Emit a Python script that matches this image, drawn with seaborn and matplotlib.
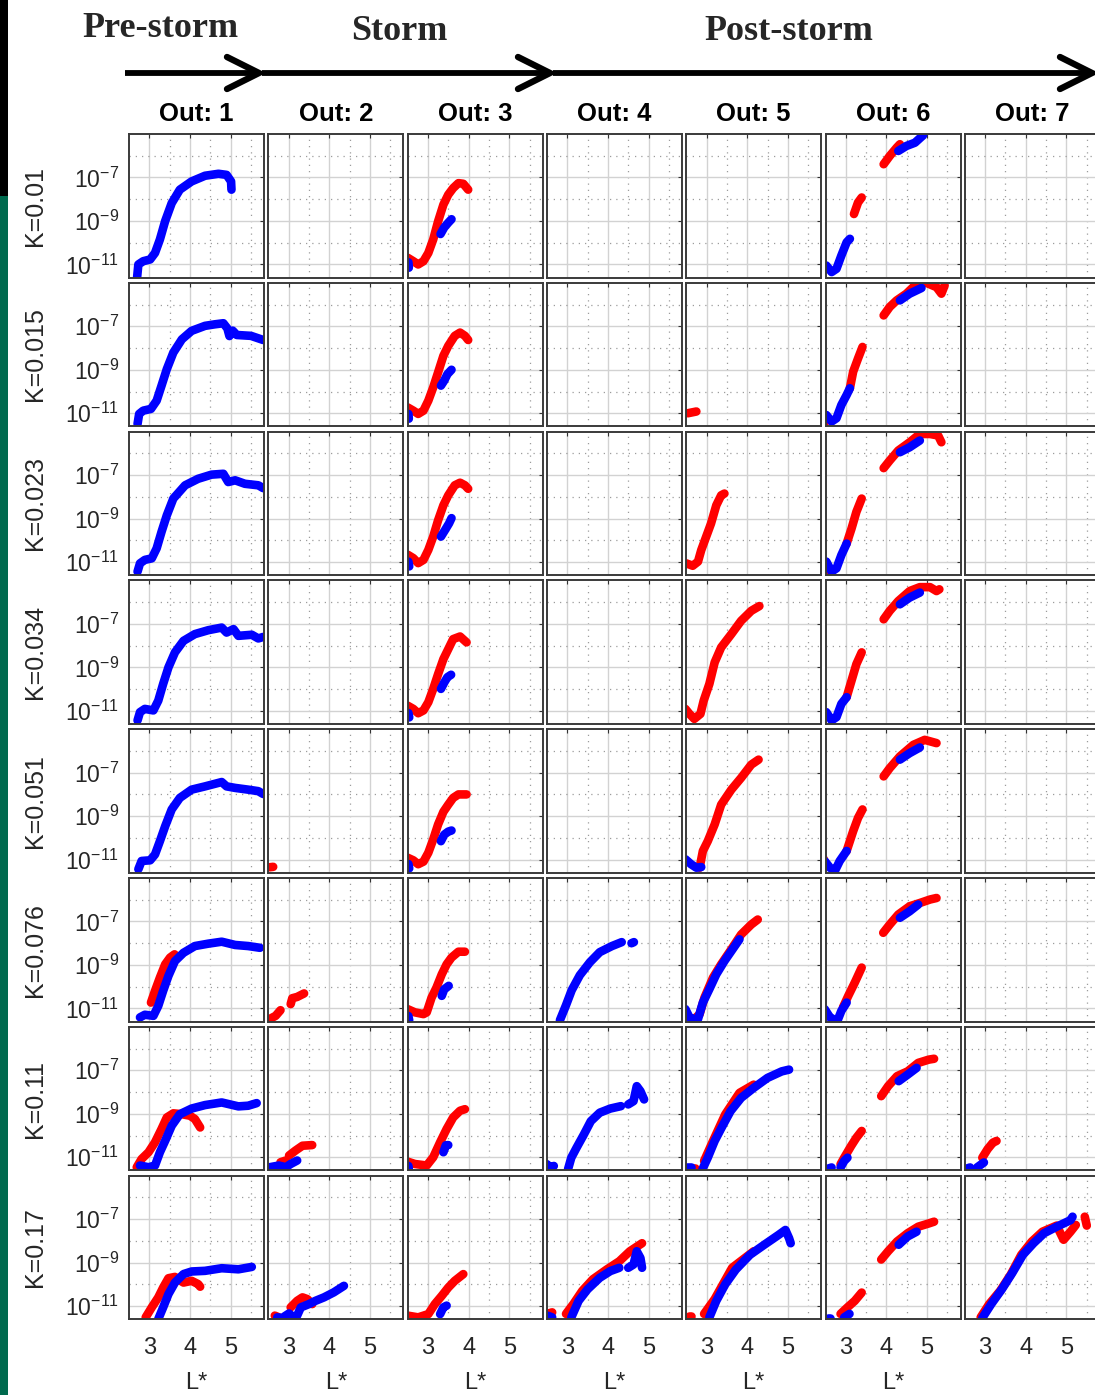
import matplotlib
matplotlib.use("Agg")
import matplotlib.pyplot as plt
import seaborn as sns
import pandas as pd
from matplotlib.lines import Line2D
from matplotlib.patches import Rectangle
from matplotlib.ticker import FixedLocator, FixedFormatter, NullFormatter

sns.set_style("white")
plt.rcParams["font.family"] = ["Liberation Sans", "DejaVu Sans"]
plt.rcParams["mathtext.fontset"] = "custom"
plt.rcParams["mathtext.rm"] = "Liberation Sans"
plt.rcParams["mathtext.it"] = "Liberation Sans:italic"
plt.rcParams["mathtext.bf"] = "Liberation Sans:bold"
plt.rcParams["axes.unicode_minus"] = False

# ---------------------------------------------------------------------------
# Grid labels
# ---------------------------------------------------------------------------
K_LABELS = ["K=0.01", "K=0.015", "K=0.023", "K=0.034", "K=0.051", "K=0.076", "K=0.11", "K=0.17"]
OUTBOUNDS = [1, 2, 3, 4, 5, 6, 7]
PHASES = ["Pre-storm", "Storm", "Post-storm"]
X_TICKS = [3, 4, 5]
Y_TICK_EXP = [-11, -9, -7]

# ---------------------------------------------------------------------------
# Phase space density profiles: (L*, log10 PSD) pairs, one list per trace
# ---------------------------------------------------------------------------
# K = 0.01
k010_o1_blue = [(2.70, -11.58), (2.73, -11.00), (2.85, -10.85), (3.02, -10.77), (3.14, -10.47), (3.26, -9.85), (3.39, -9.00), (3.55, -8.18), (3.75, -7.56), (4.04, -7.18), (4.37, -6.92), (4.70, -6.83), (4.90, -6.88), (5.01, -7.18), (5.02, -7.56)]
k010_o3_red = [(2.50, -10.69), (2.64, -10.85), (2.76, -11.00), (2.89, -10.85), (3.01, -10.47), (3.13, -9.85), (3.25, -9.02), (3.38, -8.25), (3.50, -7.79), (3.62, -7.49), (3.75, -7.26), (3.87, -7.29), (3.99, -7.56)]
k010_o3_blue = [(3.31, -9.60), (3.40, -9.30), (3.50, -9.08), (3.58, -8.92)]
k010_o3_blue_edge = [(2.52, -10.90), (2.53, -11.15)]
k010_o6_blue_low = [(2.52, -11.05), (2.65, -11.35), (2.77, -11.20), (2.89, -10.59), (3.02, -9.98), (3.10, -9.82)]
k010_o6_red_mid = [(3.20, -8.68), (3.30, -8.15), (3.39, -7.92)]
k010_o6_red_high = [(3.93, -6.39), (4.08, -6.01), (4.25, -5.63), (4.33, -5.47)]
k010_o6_blue_high = [(4.29, -5.78), (4.49, -5.55), (4.70, -5.40), (4.90, -5.06)]

# K = 0.015
k015_o1_blue = [(2.71, -11.49), (2.75, -11.03), (2.85, -10.88), (3.04, -10.80), (3.18, -10.42), (3.30, -9.73), (3.43, -8.97), (3.59, -8.21), (3.80, -7.60), (4.04, -7.21), (4.37, -6.98), (4.61, -6.91), (4.82, -6.86), (4.92, -7.10), (4.97, -7.45), (5.05, -7.20), (5.15, -7.40), (5.50, -7.44), (5.80, -7.63)]
k015_o3_red = [(2.50, -10.73), (2.64, -10.88), (2.76, -11.03), (2.89, -10.88), (3.01, -10.42), (3.13, -9.81), (3.25, -9.12), (3.38, -8.36), (3.50, -7.90), (3.66, -7.44), (3.79, -7.29), (3.91, -7.44), (3.99, -7.63)]
k015_o3_blue = [(3.32, -9.73), (3.40, -9.50), (3.48, -9.20), (3.58, -9.00)]
k015_o3_blue_edge = [(2.52, -11.03), (2.53, -11.25)]
k015_o5_red = [(2.54, -11.00), (2.75, -10.92)]
k015_o6_blue_low = [(2.52, -11.08), (2.65, -11.38), (2.77, -11.23), (2.89, -10.62), (3.02, -10.16), (3.10, -9.85)]
k015_o6_red_mid = [(3.10, -9.85), (3.18, -9.09), (3.30, -8.48), (3.41, -7.95)]
k015_o6_red_edge = [(2.46, -11.35), (2.48, -11.45)]
k015_o6_red_high = [(3.93, -6.50), (4.08, -6.11), (4.25, -5.81), (4.49, -5.50), (4.74, -5.05), (4.98, -5.00), (5.23, -5.20), (5.35, -5.50), (5.43, -5.12)]
k015_o6_blue_high = [(4.33, -5.81), (4.57, -5.50), (4.86, -5.24)]

# K = 0.023
k023_o1_blue = [(2.71, -11.44), (2.77, -11.06), (2.89, -10.90), (3.06, -10.83), (3.18, -10.37), (3.30, -9.61), (3.43, -8.85), (3.59, -8.08), (3.88, -7.47), (4.20, -7.17), (4.53, -6.98), (4.82, -6.94), (4.94, -7.32), (5.11, -7.24), (5.35, -7.40), (5.68, -7.47), (5.80, -7.60)]
k023_o3_red = [(2.50, -10.66), (2.64, -10.82), (2.76, -11.05), (2.89, -10.90), (3.01, -10.44), (3.13, -9.83), (3.25, -9.08), (3.38, -8.39), (3.50, -7.93), (3.66, -7.47), (3.79, -7.35), (3.91, -7.47), (3.99, -7.63)]
k023_o3_blue = [(3.32, -9.83), (3.42, -9.53), (3.52, -9.22), (3.58, -8.98)]
k023_o3_blue_edge = [(2.52, -10.98), (2.54, -11.20)]
k023_o5_red = [(2.50, -11.06), (2.66, -11.17), (2.79, -10.98), (2.87, -10.45), (2.99, -9.84), (3.11, -9.23), (3.24, -8.39), (3.36, -7.93), (3.44, -7.85)]
k023_o6_blue_low = [(2.52, -10.98), (2.65, -11.44), (2.77, -11.29), (2.89, -10.68), (3.02, -10.15)]
k023_o6_red_mid = [(3.02, -10.15), (3.14, -9.46), (3.26, -8.69), (3.39, -8.08)]
k023_o6_red_edge = [(2.47, -11.40), (2.49, -11.50)]
k023_o6_red_high = [(3.93, -6.68), (4.08, -6.33), (4.29, -5.87), (4.57, -5.49), (4.82, -5.11), (5.07, -5.11), (5.27, -5.18), (5.35, -5.49)]
k023_o6_blue_high = [(4.33, -5.95), (4.57, -5.72), (4.82, -5.41)]

# K = 0.034
k034_o1_blue = [(2.71, -11.44), (2.77, -11.06), (2.89, -10.91), (3.10, -10.98), (3.22, -10.53), (3.34, -9.76), (3.47, -9.00), (3.63, -8.31), (3.84, -7.78), (4.12, -7.47), (4.45, -7.29), (4.78, -7.17), (4.90, -7.40), (5.07, -7.24), (5.19, -7.55), (5.52, -7.50), (5.68, -7.67), (5.80, -7.60)]
k034_o3_red = [(2.50, -10.76), (2.64, -10.91), (2.76, -11.11), (2.89, -10.98), (3.01, -10.60), (3.13, -9.99), (3.25, -9.31), (3.38, -8.62), (3.50, -8.16), (3.62, -7.70), (3.79, -7.58), (3.95, -7.85)]
k034_o3_blue = [(3.32, -9.99), (3.40, -9.70), (3.48, -9.45), (3.57, -9.34)]
k034_o3_blue_edge = [(2.52, -11.10), (2.54, -11.30)]
k034_o5_red = [(2.48, -10.91), (2.58, -11.14), (2.70, -11.37), (2.85, -11.14), (2.93, -10.53), (3.07, -9.76), (3.20, -8.77), (3.36, -8.08), (3.61, -7.47), (3.85, -6.86), (4.10, -6.40), (4.30, -6.18)]
k034_o6_blue_low = [(2.52, -11.06), (2.65, -11.44), (2.77, -11.29), (2.89, -10.68), (3.02, -10.37)]
k034_o6_red_mid = [(3.02, -10.37), (3.14, -9.61), (3.26, -8.85), (3.39, -8.31)]
k034_o6_red_high = [(3.93, -6.79), (4.08, -6.40), (4.29, -5.95), (4.57, -5.49), (4.82, -5.31), (5.07, -5.31), (5.23, -5.49), (5.30, -5.41)]
k034_o6_blue_high = [(4.33, -6.10), (4.57, -5.79), (4.82, -5.56)]

# K = 0.051
k051_o1_blue = [(2.73, -11.44), (2.81, -11.06), (3.02, -11.03), (3.14, -10.76), (3.26, -10.15), (3.39, -9.46), (3.55, -8.69), (3.75, -8.16), (4.04, -7.78), (4.37, -7.63), (4.78, -7.43), (4.90, -7.63), (5.11, -7.70), (5.43, -7.78), (5.68, -7.85), (5.80, -7.98)]
k051_o2_red = [(2.53, -11.35), (2.62, -11.33)]
k051_o3_red = [(2.50, -10.91), (2.64, -11.03), (2.76, -11.21), (2.89, -11.09), (3.01, -10.68), (3.13, -10.07), (3.25, -9.38), (3.38, -8.80), (3.50, -8.47), (3.62, -8.16), (3.75, -8.00), (3.95, -8.00)]
k051_o3_blue = [(3.32, -10.15), (3.40, -9.85), (3.50, -9.71), (3.58, -9.66)]
k051_o3_blue_edge = [(2.52, -11.20), (2.54, -11.40)]
k051_o5_blue_low = [(2.48, -10.98), (2.62, -11.21), (2.75, -11.37), (2.87, -11.34)]
k051_o5_red = [(2.83, -11.37), (2.91, -10.60), (3.03, -10.15), (3.20, -9.38), (3.36, -8.47), (3.61, -7.78), (3.85, -7.24), (4.10, -6.63), (4.28, -6.40)]
k051_o6_blue_low = [(2.48, -11.06), (2.61, -11.37), (2.73, -11.52), (2.85, -11.06), (3.02, -10.60)]
k051_o6_red_mid = [(3.02, -10.60), (3.18, -9.69), (3.30, -9.08), (3.41, -8.69)]
k051_o6_red_edge = [(2.45, -10.95), (2.48, -11.10)]
k051_o6_red_high = [(3.93, -7.17), (4.08, -6.79), (4.33, -6.25), (4.66, -5.72), (4.94, -5.49), (5.23, -5.64)]
k051_o6_blue_high = [(4.33, -6.40), (4.57, -6.10), (4.82, -5.84)]

# K = 0.076
k076_o1_blue = [(2.77, -11.41), (2.89, -11.29), (3.10, -11.34), (3.22, -10.88), (3.34, -10.19), (3.47, -9.50), (3.63, -8.82), (3.84, -8.44), (4.12, -8.13), (4.45, -8.02), (4.78, -7.93), (5.11, -8.08), (5.43, -8.13), (5.72, -8.21)]
k076_o1_red = [(3.04, -10.73), (3.14, -10.19), (3.26, -9.58), (3.39, -8.97), (3.51, -8.66), (3.62, -8.51)]
k076_o2_red_a = [(2.53, -11.49), (2.68, -11.34), (2.80, -11.08)]
k076_o2_red_b = [(3.05, -10.80), (3.09, -10.53), (3.21, -10.47), (3.38, -10.31)]
k076_o3_red = [(2.50, -11.03), (2.68, -11.18), (2.89, -11.26), (2.97, -11.18), (3.09, -10.50), (3.21, -10.04), (3.34, -9.43), (3.46, -8.97), (3.58, -8.66), (3.75, -8.39), (3.91, -8.39)]
k076_o3_blue = [(3.34, -10.42), (3.40, -10.12), (3.51, -9.96)]
k076_o3_blue_edge = [(2.52, -11.35), (2.54, -11.55)]
k076_o4_blue = [(2.82, -11.54), (2.97, -10.85), (3.11, -10.16), (3.31, -9.47), (3.56, -8.87), (3.80, -8.41), (4.10, -8.13), (4.34, -7.95)]
k076_o4_blue_b = [(4.58, -8.00), (4.64, -7.95)]
k076_o5_blue_low = [(2.48, -11.03), (2.58, -11.41), (2.70, -11.49)]
k076_o5_red = [(2.70, -11.49), (2.83, -11.26), (2.95, -10.50), (3.16, -9.58), (3.36, -8.97), (3.61, -8.28), (3.85, -7.60), (4.10, -7.14), (4.26, -6.91)]
k076_o5_blue = [(2.79, -11.49), (2.91, -10.73), (3.07, -10.11), (3.24, -9.43), (3.44, -8.82), (3.61, -8.36), (3.81, -7.82)]
k076_o6_blue_low = [(2.48, -11.03), (2.61, -11.41), (2.69, -11.49)]
k076_o6_blue_low2 = [(2.81, -11.49), (2.89, -11.11), (3.02, -10.73)]
k076_o6_red_mid = [(2.93, -10.95), (3.06, -10.42), (3.22, -9.81), (3.39, -9.12)]
k076_o6_red_high = [(3.92, -7.52), (4.08, -7.14), (4.29, -6.68), (4.57, -6.30), (4.82, -6.15), (5.07, -5.99), (5.23, -5.92)]
k076_o6_blue_high = [(4.33, -6.83), (4.57, -6.53), (4.78, -6.22)]

# K = 0.11
k110_o1_red = [(2.69, -11.46), (2.81, -11.08), (2.98, -10.77), (3.14, -10.31), (3.30, -9.70), (3.43, -9.17), (3.59, -8.98), (3.80, -9.02), (4.00, -9.09), (4.12, -9.24), (4.25, -9.63)]
k110_o1_blue = [(2.77, -11.38), (2.98, -11.46), (3.14, -11.38), (3.26, -10.77), (3.39, -10.24), (3.55, -9.55), (3.75, -9.02), (4.04, -8.76), (4.37, -8.60), (4.78, -8.48), (5.19, -8.66), (5.43, -8.63), (5.64, -8.51)]
k110_o2_blue = [(2.53, -11.46), (2.76, -11.38), (2.93, -11.46), (3.05, -11.31), (3.21, -11.15)]
k110_o2_red_a = [(2.80, -11.23), (2.93, -11.15)]
k110_o2_red_b = [(3.01, -10.92), (3.17, -10.69), (3.34, -10.47), (3.58, -10.44)]
k110_o3_red = [(2.50, -11.20), (2.68, -11.31), (2.97, -11.38), (3.13, -11.00), (3.30, -10.31), (3.46, -9.70), (3.62, -9.17), (3.79, -8.86), (3.91, -8.79)]
k110_o3_blue = [(3.38, -10.77), (3.44, -10.45), (3.50, -10.44)]
k110_o3_blue_edge = [(2.52, -11.40), (2.53, -11.55)]
k110_o4_blue_a = [(2.50, -11.32), (2.58, -11.47), (2.67, -11.40)]
k110_o4_blue = [(3.02, -11.55), (3.10, -11.02), (3.23, -10.56), (3.41, -9.95), (3.58, -9.34), (3.80, -8.95), (4.06, -8.76), (4.32, -8.65)]
k110_o4_blue_b = [(4.50, -8.57), (4.63, -8.42), (4.71, -7.73), (4.80, -7.96), (4.89, -8.34)]
k110_o5_blue_a = [(2.52, -11.47), (2.63, -11.47)]
k110_o5_red_a = [(2.66, -11.50), (2.72, -11.50)]
k110_o5_red = [(2.94, -11.17), (3.16, -10.25), (3.46, -9.03), (3.81, -8.04), (4.16, -7.66)]
k110_o5_blue = [(2.90, -11.55), (3.03, -11.02), (3.20, -10.25), (3.37, -9.64), (3.59, -8.88), (3.85, -8.27), (4.16, -7.81), (4.50, -7.35), (4.85, -7.05), (5.03, -6.97)]
k110_o6_blue_a = [(2.52, -11.55), (2.65, -11.47)]
k110_o6_red_mid = [(2.87, -11.32), (2.96, -11.02), (3.13, -10.48), (3.26, -10.10), (3.39, -9.79)]
k110_o6_blue_b = [(2.87, -11.47), (2.96, -11.17), (3.04, -11.02)]
k110_o6_red_high = [(3.87, -8.19), (4.04, -7.73), (4.26, -7.27), (4.52, -7.05), (4.78, -6.66), (5.04, -6.51), (5.17, -6.47)]
k110_o6_blue_high = [(4.30, -7.50), (4.52, -7.20), (4.74, -6.89)]
k110_o7_blue_a = [(2.50, -11.55), (2.63, -11.47)]
k110_o7_blue_b = [(2.80, -11.47), (2.97, -11.24)]
k110_o7_red = [(2.93, -11.02), (3.06, -10.63), (3.19, -10.33), (3.28, -10.25)]

# K = 0.17
k170_o1_red = [(2.91, -11.52), (3.06, -11.06), (3.22, -10.60), (3.34, -10.15), (3.47, -9.72), (3.63, -9.66), (3.84, -9.92), (4.04, -9.84), (4.20, -9.99), (4.25, -10.11)]
k170_o1_blue = [(3.22, -11.60), (3.34, -11.06), (3.47, -10.45), (3.63, -9.92), (3.84, -9.53), (4.04, -9.41), (4.37, -9.38), (4.78, -9.26), (5.19, -9.31), (5.52, -9.20)]
k170_o2_red_a = [(2.66, -11.44), (2.76, -11.52)]
k170_o2_red_b = [(3.05, -11.06), (3.21, -10.76), (3.34, -10.60), (3.46, -10.68), (3.58, -10.91)]
k170_o2_blue = [(2.72, -11.52), (2.84, -11.55), (3.01, -11.34), (3.17, -11.60), (3.30, -11.06), (3.50, -10.91), (3.66, -10.76), (3.87, -10.60), (4.11, -10.37), (4.36, -10.07)]
k170_o3_red = [(2.50, -11.44), (2.76, -11.52), (3.01, -11.37), (3.17, -10.91), (3.34, -10.53), (3.50, -10.15), (3.66, -9.84), (3.87, -9.53)]
k170_o3_blue = [(3.30, -11.37), (3.38, -11.06), (3.46, -10.98)]
k170_o4_red_a = [(2.50, -11.36), (2.63, -11.29)]
k170_o4_blue_a = [(2.51, -11.44), (2.63, -11.52)]
k170_o4_red = [(2.97, -11.36), (3.15, -10.91), (3.37, -10.30), (3.63, -9.77), (3.97, -9.32), (4.28, -8.94), (4.54, -8.48), (4.84, -8.11)]
k170_o4_blue = [(3.10, -11.52), (3.28, -10.76), (3.50, -10.23), (3.80, -9.70), (4.06, -9.39), (4.28, -9.24)]
k170_o4_blue_b = [(4.50, -9.24), (4.63, -9.09), (4.71, -8.48), (4.80, -8.79), (4.84, -9.24)]
k170_o5_red_a = [(2.56, -11.44), (2.63, -11.44)]
k170_o5_red = [(2.94, -11.36), (3.20, -10.68), (3.63, -9.24), (4.16, -8.48)]
k170_o5_blue = [(3.07, -11.52), (3.24, -10.76), (3.46, -10.00), (3.72, -9.32), (4.07, -8.64), (4.42, -8.18), (4.77, -7.73), (4.94, -7.50), (5.03, -7.88), (5.07, -8.11)]
k170_o6_blue_a = [(2.55, -11.55), (2.60, -11.55)]
k170_o6_red_mid = [(2.87, -11.36), (3.04, -11.06), (3.22, -10.76), (3.39, -10.38)]
k170_o6_blue_b = [(2.96, -11.52), (3.09, -11.36)]
k170_o6_red_high = [(3.87, -8.86), (4.04, -8.48), (4.26, -8.03), (4.52, -7.65), (4.78, -7.35), (5.04, -7.20), (5.17, -7.12)]
k170_o6_blue_high = [(4.30, -8.18), (4.52, -7.80), (4.74, -7.58)]
k170_o7_red = [(2.89, -11.52), (3.10, -10.91), (3.37, -10.30), (3.63, -9.55), (3.89, -8.64), (4.15, -8.03), (4.41, -7.58), (4.76, -7.30), (4.89, -7.80), (4.93, -7.95), (5.10, -7.58), (5.23, -7.27)]
k170_o7_red_b = [(5.45, -6.89), (5.50, -7.30)]
k170_o7_blue = [(2.93, -11.55), (3.15, -10.91), (3.41, -10.23), (3.67, -9.47), (3.93, -8.64), (4.19, -8.11), (4.45, -7.65), (4.76, -7.35), (5.10, -7.05), (5.15, -6.89)]

# (row index, outbound number, colour, trace)
TRACES = [
    (0, 1, "blue", k010_o1_blue), (0, 3, "red", k010_o3_red), (0, 3, "blue", k010_o3_blue),
    (0, 3, "blue", k010_o3_blue_edge), (0, 6, "blue", k010_o6_blue_low), (0, 6, "red", k010_o6_red_mid),
    (0, 6, "red", k010_o6_red_high), (0, 6, "blue", k010_o6_blue_high),
    (1, 1, "blue", k015_o1_blue), (1, 3, "red", k015_o3_red), (1, 3, "blue", k015_o3_blue),
    (1, 3, "blue", k015_o3_blue_edge), (1, 5, "red", k015_o5_red), (1, 6, "blue", k015_o6_blue_low),
    (1, 6, "red", k015_o6_red_mid), (1, 6, "red", k015_o6_red_edge), (1, 6, "red", k015_o6_red_high),
    (1, 6, "blue", k015_o6_blue_high),
    (2, 1, "blue", k023_o1_blue), (2, 3, "red", k023_o3_red), (2, 3, "blue", k023_o3_blue),
    (2, 3, "blue", k023_o3_blue_edge), (2, 5, "red", k023_o5_red), (2, 6, "blue", k023_o6_blue_low),
    (2, 6, "red", k023_o6_red_mid), (2, 6, "red", k023_o6_red_edge), (2, 6, "red", k023_o6_red_high),
    (2, 6, "blue", k023_o6_blue_high),
    (3, 1, "blue", k034_o1_blue), (3, 3, "red", k034_o3_red), (3, 3, "blue", k034_o3_blue),
    (3, 3, "blue", k034_o3_blue_edge), (3, 5, "red", k034_o5_red), (3, 6, "blue", k034_o6_blue_low),
    (3, 6, "red", k034_o6_red_mid), (3, 6, "red", k034_o6_red_high), (3, 6, "blue", k034_o6_blue_high),
    (4, 1, "blue", k051_o1_blue), (4, 2, "red", k051_o2_red), (4, 3, "red", k051_o3_red),
    (4, 3, "blue", k051_o3_blue), (4, 3, "blue", k051_o3_blue_edge), (4, 5, "blue", k051_o5_blue_low),
    (4, 5, "red", k051_o5_red), (4, 6, "blue", k051_o6_blue_low), (4, 6, "red", k051_o6_red_mid),
    (4, 6, "red", k051_o6_red_edge), (4, 6, "red", k051_o6_red_high), (4, 6, "blue", k051_o6_blue_high),
    (5, 1, "blue", k076_o1_blue), (5, 1, "red", k076_o1_red), (5, 2, "red", k076_o2_red_a),
    (5, 2, "red", k076_o2_red_b), (5, 3, "red", k076_o3_red), (5, 3, "blue", k076_o3_blue),
    (5, 3, "blue", k076_o3_blue_edge), (5, 4, "blue", k076_o4_blue), (5, 4, "blue", k076_o4_blue_b),
    (5, 5, "blue", k076_o5_blue_low), (5, 5, "red", k076_o5_red), (5, 5, "blue", k076_o5_blue),
    (5, 6, "blue", k076_o6_blue_low), (5, 6, "blue", k076_o6_blue_low2), (5, 6, "red", k076_o6_red_mid),
    (5, 6, "red", k076_o6_red_high), (5, 6, "blue", k076_o6_blue_high),
    (6, 1, "red", k110_o1_red), (6, 1, "blue", k110_o1_blue), (6, 2, "blue", k110_o2_blue),
    (6, 2, "red", k110_o2_red_a), (6, 2, "red", k110_o2_red_b), (6, 3, "red", k110_o3_red),
    (6, 3, "blue", k110_o3_blue), (6, 3, "blue", k110_o3_blue_edge), (6, 4, "blue", k110_o4_blue_a),
    (6, 4, "blue", k110_o4_blue), (6, 4, "blue", k110_o4_blue_b), (6, 5, "blue", k110_o5_blue_a),
    (6, 5, "red", k110_o5_red_a), (6, 5, "red", k110_o5_red), (6, 5, "blue", k110_o5_blue),
    (6, 6, "blue", k110_o6_blue_a), (6, 6, "red", k110_o6_red_mid), (6, 6, "blue", k110_o6_blue_b),
    (6, 6, "red", k110_o6_red_high), (6, 6, "blue", k110_o6_blue_high), (6, 7, "blue", k110_o7_blue_a),
    (6, 7, "blue", k110_o7_blue_b), (6, 7, "red", k110_o7_red),
    (7, 1, "red", k170_o1_red), (7, 1, "blue", k170_o1_blue), (7, 2, "red", k170_o2_red_a),
    (7, 2, "red", k170_o2_red_b), (7, 2, "blue", k170_o2_blue), (7, 3, "red", k170_o3_red),
    (7, 3, "blue", k170_o3_blue), (7, 4, "red", k170_o4_red_a), (7, 4, "blue", k170_o4_blue_a),
    (7, 4, "red", k170_o4_red), (7, 4, "blue", k170_o4_blue), (7, 4, "blue", k170_o4_blue_b),
    (7, 5, "red", k170_o5_red_a), (7, 5, "red", k170_o5_red), (7, 5, "blue", k170_o5_blue),
    (7, 6, "blue", k170_o6_blue_a), (7, 6, "red", k170_o6_red_mid), (7, 6, "blue", k170_o6_blue_b),
    (7, 6, "red", k170_o6_red_high), (7, 6, "blue", k170_o6_blue_high), (7, 7, "red", k170_o7_red),
    (7, 7, "red", k170_o7_red_b), (7, 7, "blue", k170_o7_blue),
]

records = []
for seg_id, (ri, out, colour, trace) in enumerate(TRACES):
    for lstar, logpsd in trace:
        records.append({"row": ri, "out": out, "series": colour, "seg": seg_id,
                        "L": lstar, "psd": 10.0 ** logpsd})
df = pd.DataFrame(records)

# ---------------------------------------------------------------------------
# Figure layout (pixel geometry)
# ---------------------------------------------------------------------------
W, H = 1095, 1395
fig = plt.figure(figsize=(W / 100, H / 100), dpi=100)
fig.patch.set_facecolor("white")

LEFT0, DX = 129.0, 139.3
TOP0, DY = 134.0, 148.8
PW, PH = 135.0, 143.5
PALETTE = {"red": "#ff0000", "blue": "#0000ff"}
TXT = "#262626"


def fx(px):
    return px / W


def fy(py):
    return 1 - py / H


for ri, klabel in enumerate(K_LABELS):
    top = TOP0 + ri * DY
    for ci, out in enumerate(OUTBOUNDS):
        left = LEFT0 + ci * DX
        ax = fig.add_axes([fx(left), fy(top + PH), PW / W, PH / H])
        sub = df[(df["row"] == ri) & (df["out"] == out)]
        if len(sub):
            sns.lineplot(data=sub, x="L", y="psd", hue="series", hue_order=["red", "blue"],
                         palette=PALETTE, units="seg", estimator=None, sort=False,
                         linewidth=6.2, legend=False, ax=ax,
                         solid_capstyle="round", solid_joinstyle="round")
        ax.set_yscale("log")
        ax.set_xlim(2.5, 5.82)
        ax.set_ylim(10 ** -11.6, 1e-5)
        ax.set_xlabel("")
        ax.set_ylabel("")
        ax.xaxis.set_major_locator(FixedLocator(X_TICKS))
        ax.xaxis.set_minor_locator(FixedLocator([3.5, 4.5, 5.5]))
        ax.yaxis.set_major_locator(FixedLocator([10.0 ** e for e in Y_TICK_EXP]))
        ax.yaxis.set_minor_locator(FixedLocator([1e-10, 1e-8, 1e-6]))
        ax.yaxis.set_minor_formatter(NullFormatter())
        ax.xaxis.set_minor_formatter(NullFormatter())
        ax.grid(True, which="major", color="#d2d2d2", linewidth=1.0, linestyle="-")
        ax.grid(True, which="minor", color="#9c9c9c", linewidth=0.9, linestyle=(0, (1, 4)))
        ax.set_axisbelow(True)
        ax.tick_params(which="major", direction="in", length=3, width=0.8, color="#333333",
                       top=True, right=True, labelcolor=TXT)
        ax.tick_params(which="minor", length=0)
        for sp in ax.spines.values():
            sp.set_color("#3a3a3a")
            sp.set_linewidth(1.4)
        if ci == 0:
            ax.yaxis.set_major_formatter(FixedFormatter(["$10^{%d}$" % e for e in Y_TICK_EXP]))
            ax.tick_params(axis="y", labelsize=16.5, pad=7)
        else:
            ax.yaxis.set_major_formatter(NullFormatter())
        if ri == len(K_LABELS) - 1:
            ax.xaxis.set_major_formatter(FixedFormatter([str(t) for t in X_TICKS]))
            ax.tick_params(axis="x", labelsize=17, pad=13)
            if out != OUTBOUNDS[-1]:
                ax.set_xlabel("L*", fontsize=17, color=TXT, labelpad=9)
        else:
            ax.xaxis.set_major_formatter(NullFormatter())
        if ri == 0:
            fig.text(fx(left + PW / 2), fy(114), f"Out: {out}", ha="center", va="center",
                     fontsize=18.5, fontweight="bold", color="black")
    fig.text(fx(35), fy(top + PH / 2), klabel, rotation=90, ha="center", va="center",
             fontsize=18, color=TXT)

# Storm phase header with arrows
serif = ["Liberation Serif", "DejaVu Serif"]
fig.text(fx(160), fy(37), PHASES[0], ha="center", va="baseline", fontsize=26,
         fontweight="bold", family=serif)
fig.text(fx(399), fy(40), PHASES[1], ha="center", va="baseline", fontsize=26,
         fontweight="bold", family=serif)
fig.text(fx(789), fy(40), PHASES[2], ha="center", va="baseline", fontsize=26,
         fontweight="bold", family=serif)

ARROW_Y = 73
for x0, x1 in [(125, 259), (262, 550), (553, 1092)]:
    fig.add_artist(Line2D([fx(x0), fx(x1 - 2)], [fy(ARROW_Y), fy(ARROW_Y)],
                          transform=fig.transFigure, color="black", linewidth=4.2,
                          solid_capstyle="butt"))
    fig.add_artist(Line2D([fx(x1 - 32), fx(x1), fx(x1 - 32)],
                          [fy(ARROW_Y - 16), fy(ARROW_Y), fy(ARROW_Y + 16)],
                          transform=fig.transFigure, color="black", linewidth=4.6,
                          solid_capstyle="round", solid_joinstyle="miter"))

# Slide-side colour strip
fig.add_artist(Rectangle((0, fy(196)), fx(8), 196 / H, transform=fig.transFigure,
                         facecolor="black", edgecolor="none"))
fig.add_artist(Rectangle((0, 0), fx(8), fy(196), transform=fig.transFigure,
                         facecolor="#006a4e", edgecolor="none"))

fig.savefig("out.png", dpi=100, facecolor="white")
